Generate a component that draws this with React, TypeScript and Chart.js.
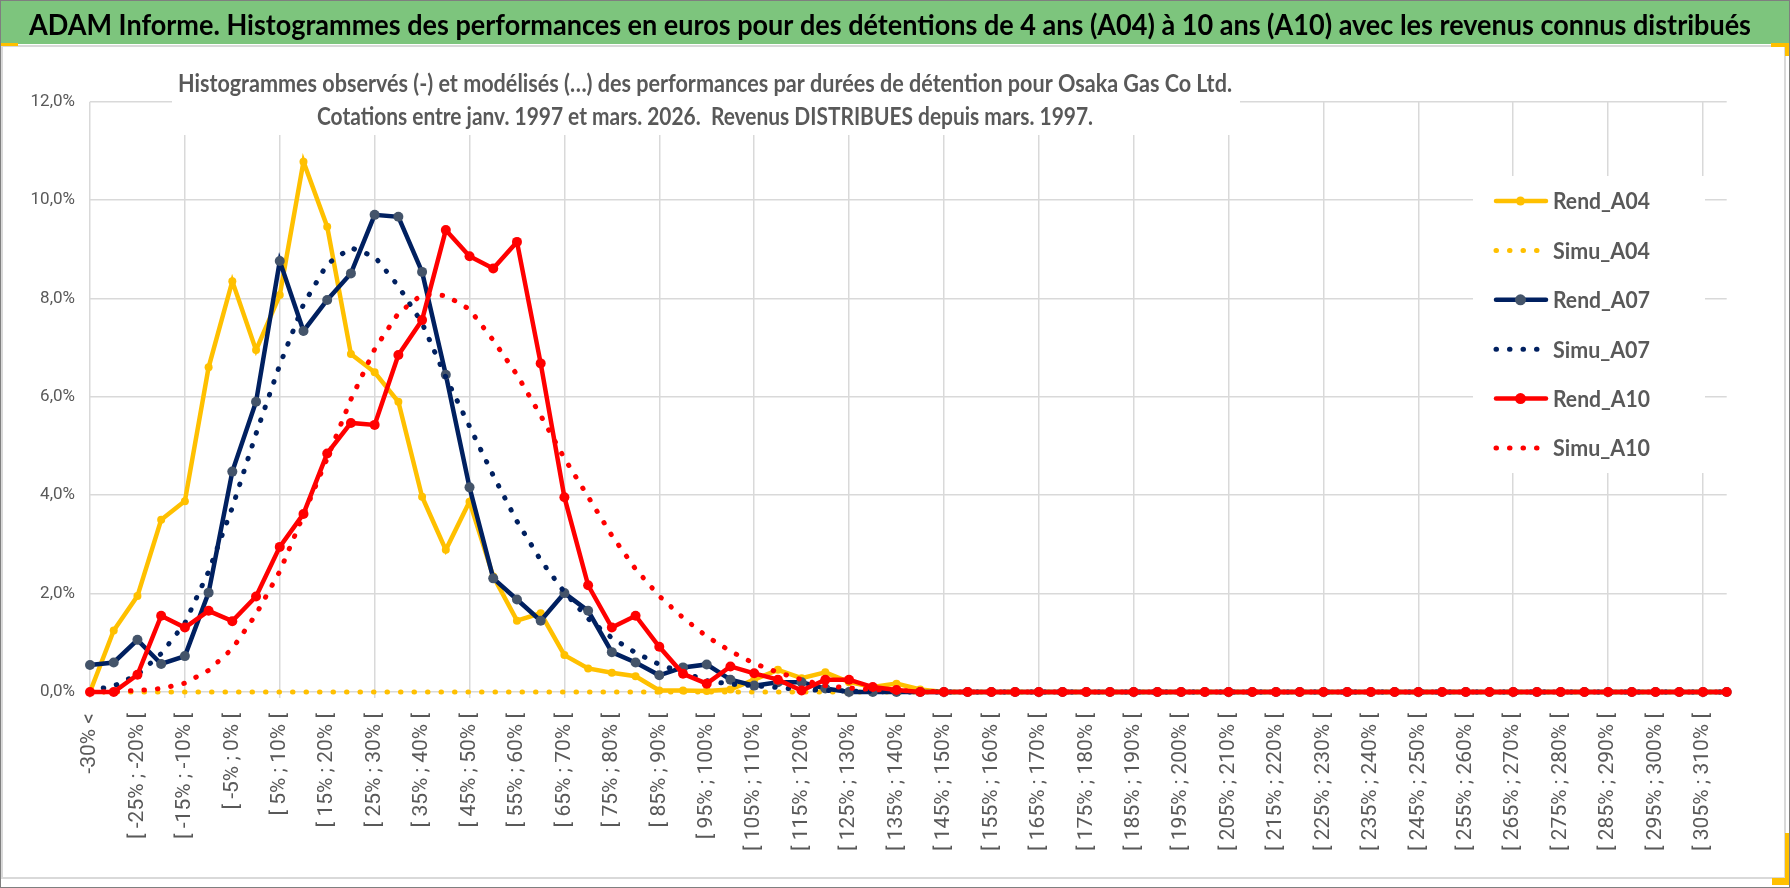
import React, { useEffect, useRef } from "react";
import { Chart, registerables } from "chart.js";

Chart.register(...registerables);

const W = 1790;
const H = 888;

// Texts
const bannerText =
  "ADAM Informe. Histogrammes des performances en euros pour des détentions de 4 ans (A04) à 10 ans (A10) avec les revenus connus distribués";
const titleLine1 =
  "Histogrammes observés (-) et modélisés (…) des performances par durées de détention pour Osaka Gas Co Ltd.";
const titleLine2 =
  "Cotations entre janv. 1997 et mars. 2026.  Revenus DISTRIBUES depuis mars. 1997.";

// Categories (performance classes)
const categories = [
  "-30% <",
  "[ -30% ; -25% [", "[ -25% ; -20% [", "[ -20% ; -15% [", "[ -15% ; -10% [", "[ -10% ; -5% [",
  "[ -5% ; 0% [", "[ 0% ; 5% [", "[ 5% ; 10% [", "[ 10% ; 15% [", "[ 15% ; 20% [",
  "[ 20% ; 25% [", "[ 25% ; 30% [", "[ 30% ; 35% [", "[ 35% ; 40% [", "[ 40% ; 45% [",
  "[ 45% ; 50% [", "[ 50% ; 55% [", "[ 55% ; 60% [", "[ 60% ; 65% [", "[ 65% ; 70% [",
  "[ 70% ; 75% [", "[ 75% ; 80% [", "[ 80% ; 85% [", "[ 85% ; 90% [", "[ 90% ; 95% [",
  "[ 95% ; 100% [", "[ 100% ; 105% [", "[ 105% ; 110% [", "[ 110% ; 115% [", "[ 115% ; 120% [",
  "[ 120% ; 125% [", "[ 125% ; 130% [", "[ 130% ; 135% [", "[ 135% ; 140% [", "[ 140% ; 145% [",
  "[ 145% ; 150% [", "[ 150% ; 155% [", "[ 155% ; 160% [", "[ 160% ; 165% [", "[ 165% ; 170% [",
  "[ 170% ; 175% [", "[ 175% ; 180% [", "[ 180% ; 185% [", "[ 185% ; 190% [", "[ 190% ; 195% [",
  "[ 195% ; 200% [", "[ 200% ; 205% [", "[ 205% ; 210% [", "[ 210% ; 215% [", "[ 215% ; 220% [",
  "[ 220% ; 225% [", "[ 225% ; 230% [", "[ 230% ; 235% [", "[ 235% ; 240% [", "[ 240% ; 245% [",
  "[ 245% ; 250% [", "[ 250% ; 255% [", "[ 255% ; 260% [", "[ 260% ; 265% [", "[ 265% ; 270% [",
  "[ 270% ; 275% [", "[ 275% ; 280% [", "[ 280% ; 285% [", "[ 285% ; 290% [", "[ 290% ; 295% [",
  "[ 295% ; 300% [", "[ 300% ; 305% [", "[ 305% ; 310% [", "[ 310% ; 315% [",
];

// Series values, in %
const rendA04 = [
  0, 1.25, 1.95, 3.5, 3.88, 6.6, 8.35, 6.95, 8.07, 10.78,
  9.46, 6.87, 6.5, 5.9, 3.97, 2.89, 3.87, 2.35, 1.45, 1.6,
  0.75, 0.48, 0.39, 0.32, 0.03, 0.03, 0.02, 0.05, 0.25, 0.45,
  0.28, 0.4, 0.2, 0.1, 0.17, 0.05, 0, 0, 0, 0,
  0, 0, 0, 0, 0, 0, 0, 0, 0, 0,
  0, 0, 0, 0, 0, 0, 0, 0, 0, 0,
  0, 0, 0, 0, 0, 0, 0, 0, 0, 0,
];
const simuA04 = [
  0, 0, 0, 0, 0, 0, 0, 0, 0, 0,
  0, 0, 0, 0, 0, 0, 0, 0, 0, 0,
  0, 0, 0, 0, 0, 0, 0, 0, 0, 0,
  0, 0, 0, 0, 0, 0, 0, 0, 0, 0,
  0, 0, 0, 0, 0, 0, 0, 0, 0, 0,
  0, 0, 0, 0, 0, 0, 0, 0, 0, 0,
  0, 0, 0, 0, 0, 0, 0, 0, 0, 0,
];
const rendA07 = [
  0.55, 0.6, 1.06, 0.57, 0.73, 2.02, 4.48, 5.9, 8.76, 7.34,
  7.97, 8.51, 9.7, 9.66, 8.54, 6.45, 4.16, 2.31, 1.88, 1.45,
  2.01, 1.65, 0.81, 0.6, 0.34, 0.5, 0.56, 0.25, 0.13, 0.2,
  0.2, 0.07, 0, 0, 0, 0, 0, 0, 0, 0,
  0, 0, 0, 0, 0, 0, 0, 0, 0, 0,
  0, 0, 0, 0, 0, 0, 0, 0, 0, 0,
  0, 0, 0, 0, 0, 0, 0, 0, 0, 0,
];
const simuA07 = [
  0.03, 0.12, 0.35, 0.78, 1.4, 2.45, 3.75, 5.25, 6.65, 7.88,
  8.7, 9.03, 8.85, 8.25, 7.5, 6.4, 5.4, 4.4, 3.47, 2.68,
  2.03, 1.49, 1.1, 0.8, 0.56, 0.4, 0.23, 0.16, 0.13, 0.09,
  0.05, 0.03, 0.02, 0.01, 0, 0, 0, 0, 0, 0,
  0, 0, 0, 0, 0, 0, 0, 0, 0, 0,
  0, 0, 0, 0, 0, 0, 0, 0, 0, 0,
  0, 0, 0, 0, 0, 0, 0, 0, 0, 0,
];
const rendA10 = [
  0, 0, 0.35, 1.55, 1.31, 1.65, 1.44, 1.94, 2.95, 3.62,
  4.85, 5.47, 5.43, 6.85, 7.56, 9.39, 8.86, 8.61, 9.15, 6.68,
  3.96, 2.17, 1.31, 1.55, 0.92, 0.37, 0.17, 0.52, 0.38, 0.25,
  0.03, 0.25, 0.25, 0.1, 0.04, 0, 0, 0, 0, 0,
  0, 0, 0, 0, 0, 0, 0, 0, 0, 0,
  0, 0, 0, 0, 0, 0, 0, 0, 0, 0,
  0, 0, 0, 0, 0, 0, 0, 0, 0, 0,
];
const simuA10 = [
  0, 0.01, 0.03, 0.07, 0.18, 0.44, 0.88, 1.58, 2.45, 3.6,
  4.75, 5.95, 6.97, 7.7, 8.08, 8.06, 7.78, 7.15, 6.45, 5.62,
  4.75, 3.97, 3.18, 2.5, 1.95, 1.51, 1.13, 0.83, 0.58, 0.4,
  0.25, 0.13, 0.08, 0.05, 0.03, 0.02, 0, 0, 0, 0,
  0, 0, 0, 0, 0, 0, 0, 0, 0, 0,
  0, 0, 0, 0, 0, 0, 0, 0, 0, 0,
  0, 0, 0, 0, 0, 0, 0, 0, 0, 0,
];

const yTicks = [0, 2, 4, 6, 8, 10, 12];

const YELLOW = "#FFC000";
const NAVY = "#002060";
const NAVY_MARK = "#44546A";
const RED = "#FF0000";
const GRID = "#d9d9d9";
const TEXT = "#595959";
const DOTS = [0.5, 13];

const solid = (label: string, data: number[], color: string, mark: string, r: number, order: number) => ({
  label,
  data,
  borderColor: color,
  backgroundColor: mark,
  borderWidth: 4.5,
  pointRadius: r,
  pointBackgroundColor: mark,
  pointBorderColor: mark,
  pointBorderWidth: 0,
  tension: 0,
  clip: false as const,
  order,
});

const dotted = (label: string, data: number[], color: string, order: number) => ({
  label,
  data,
  borderColor: color,
  backgroundColor: color,
  borderWidth: 5,
  borderDash: DOTS,
  borderCapStyle: "round" as const,
  pointRadius: 0,
  tension: 0,
  clip: false as const,
  order,
});

// frame, banner, overlaid title and legend
const framePlugin = {
  id: "excelFrame",
  beforeDraw(chart: any) {
    const ctx = chart.ctx;
    ctx.save();
    ctx.fillStyle = "#ffffff";
    ctx.fillRect(0, 0, W, H);
    ctx.fillStyle = "#7dc57d";
    ctx.fillRect(1, 1, W - 2, 43);
    ctx.fillStyle = "#000000";
    ctx.font = "bold 28px Lato, 'Liberation Sans', sans-serif";
    ctx.textAlign = "left";
    ctx.textBaseline = "alphabetic";
    ctx.fillText(bannerText, 29, 35, 1722);
    ctx.strokeStyle = GRID;
    ctx.lineWidth = 2;
    ctx.strokeRect(2, 46, 1783, 832);
    ctx.strokeStyle = "#7f7f7f";
    ctx.lineWidth = 1;
    ctx.strokeRect(0.5, 0.5, W - 1, H - 1);
    ctx.fillStyle = YELLOW;
    ctx.fillRect(1, 43, 17, 3);
    ctx.fillRect(1771, 43, 17, 4);
    ctx.fillRect(1785, 43, 4, 13);
    ctx.fillRect(1785, 833, 4, 52);
    ctx.fillRect(1772, 878, 17, 7);
    ctx.restore();
  },
  afterDraw(chart: any) {
    const ctx = chart.ctx;
    ctx.save();
    // title box over the plot
    ctx.fillStyle = "#ffffff";
    ctx.fillRect(172, 58, 1068, 77);
    ctx.fillStyle = TEXT;
    ctx.font = "bold 24px Lato, 'Liberation Sans', sans-serif";
    ctx.textAlign = "center";
    ctx.textBaseline = "alphabetic";
    ctx.fillText(titleLine1, 705, 92, 1054);
    ctx.fillText(titleLine2, 705, 125, 776);

    // legend box over the plot
    ctx.fillStyle = "#ffffff";
    ctx.fillRect(1473, 176, 232, 297);
    chart.data.datasets.forEach((ds: any, i: number) => {
      const y = 201 + i * 49.4;
      ctx.strokeStyle = ds.borderColor;
      ctx.lineWidth = ds.borderWidth;
      if (ds.borderDash) {
        ctx.setLineDash(ds.borderDash);
        ctx.lineCap = "round";
        ctx.beginPath();
        ctx.moveTo(1496, y);
        ctx.lineTo(1546, y);
        ctx.stroke();
        ctx.setLineDash([]);
      } else {
        ctx.lineCap = "round";
        ctx.beginPath();
        ctx.moveTo(1496, y);
        ctx.lineTo(1546, y);
        ctx.stroke();
        ctx.fillStyle = ds.pointBackgroundColor;
        ctx.beginPath();
        ctx.arc(1520.5, y, ds.pointRadius + 0.5, 0, Math.PI * 2);
        ctx.fill();
      }
      ctx.fillStyle = TEXT;
      ctx.font = "bold 23px Lato, 'Liberation Sans', sans-serif";
      ctx.textAlign = "left";
      ctx.textBaseline = "middle";
      ctx.fillText(ds.label, 1553, y + 1, 97);
    });
    ctx.restore();
  },
};

const App: React.FC = () => {
  const chartRef = useRef<HTMLCanvasElement>(null);

  useEffect(() => {
    document.body.style.margin = "0";
    if (!chartRef.current) return;

    Chart.defaults.font.family = "Roboto, 'Liberation Sans', sans-serif";
    Chart.defaults.color = TEXT;

    const chart = new Chart(chartRef.current, {
      type: "line",
      data: {
        labels: categories,
        datasets: [
          solid("Rend_A04", rendA04, YELLOW, YELLOW, 4, 6),
          dotted("Simu_A04", simuA04, YELLOW, 5),
          solid("Rend_A07", rendA07, NAVY, NAVY_MARK, 5, 4),
          dotted("Simu_A07", simuA07, NAVY, 3),
          solid("Rend_A10", rendA10, RED, RED, 5, 2),
          dotted("Simu_A10", simuA10, RED, 1),
        ],
      },
      options: {
        responsive: false,
        maintainAspectRatio: false,
        animation: false,
        events: [],
        layout: { padding: { top: 101.7, left: 0, right: 63.3, bottom: 10 } },
        plugins: {
          legend: { display: false },
          title: { display: false },
          tooltip: { enabled: false },
        },
        scales: {
          x: {
            type: "category",
            offset: false,
            border: { display: false },
            grid: {
              color: (c: any) => (c.index % 4 === 0 ? GRID : "rgba(0,0,0,0)"),
              lineWidth: 1.5,
              drawTicks: true,
              tickLength: 6,
            },
            ticks: {
              autoSkip: false,
              maxRotation: 90,
              minRotation: 90,
              padding: 15,
              color: TEXT,
              font: { size: 21 },
              callback: (_v: any, i: number) => (i % 2 === 0 ? categories[i] : ""),
            },
            afterFit: (s: any) => {
              s.height = 186;
            },
          },
          y: {
            min: yTicks[0],
            max: yTicks[yTicks.length - 1],
            border: { display: false },
            grid: { color: GRID, lineWidth: 1.5, drawTicks: false },
            ticks: {
              stepSize: 2,
              padding: 15,
              color: TEXT,
              font: { size: 17 },
              callback: (v: any) => Number(v).toFixed(1).replace(".", ",") + "%",
            },
            afterFit: (s: any) => {
              s.width = 90;
            },
          },
        },
      },
      plugins: [framePlugin],
    } as any);

    return () => {
      chart.destroy();
    };
  }, []);

  return (
    <div style={{ width: W, height: H, position: "relative" }}>
      <canvas ref={chartRef} width={W} height={H} style={{ display: "block", width: W, height: H }} />
    </div>
  );
};

export default App;
